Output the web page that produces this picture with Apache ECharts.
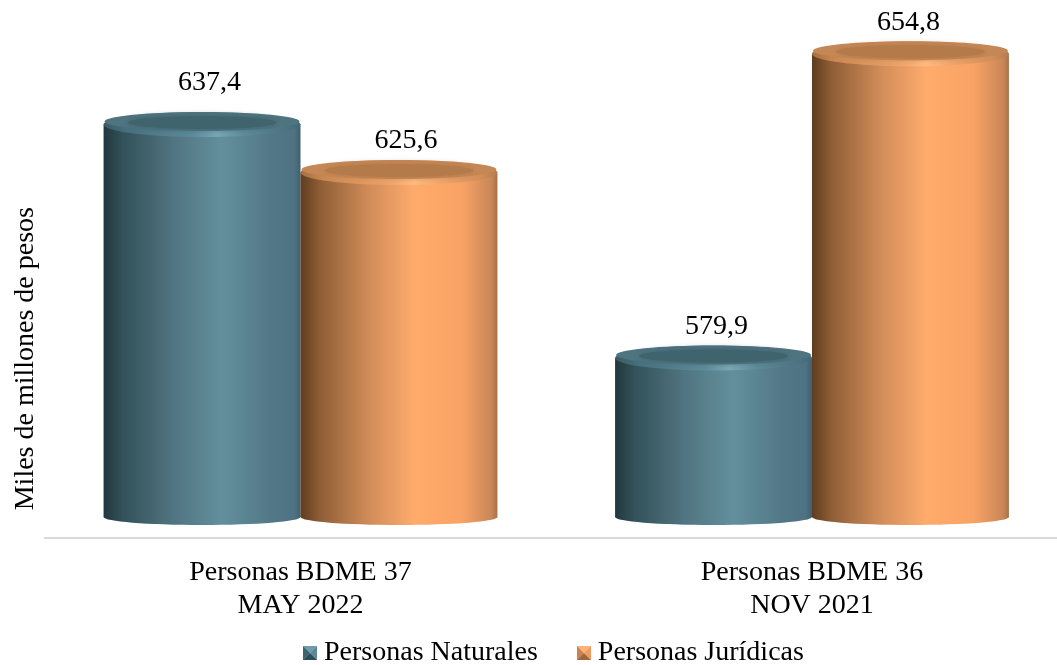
<!DOCTYPE html>
<html>
<head>
<meta charset="utf-8">
<style>
html, body { margin: 0; padding: 0; background: #fff; }
#chart { width: 1057px; height: 665px; }
</style>
<script src="https://cdn.jsdelivr.net/npm/echarts@6/dist/echarts.min.js"></script>
</head>
<body>
<div id="chart"></div>
<script>
var categories = ['Personas BDME 37\nMAY 2022', 'Personas BDME 36\nNOV 2021'];
var seriesNames = ['Personas Naturales', 'Personas Jurídicas'];
var naturales = [637.4, 579.9];
var juridicas = [625.6, 654.8];
var axisMin = 535.6;
var axisMax = 667.6;
// the cylinders stand a little above the axis line
var cylinderBase = 540.8;

var FONT = '"Liberation Serif", "Times New Roman", serif';

// hand placed labels in the original: [dx, lift] by series then category
var labelNudge = [
    [[7.5, 42], [3, 31]],
    [[7, 32], [-2, 31]]
];

var palettes = [
    {
        body: [[0, '#22373d'], [0.1, '#33525a'], [0.35, '#507480'], [0.6, '#638f9d'], [0.85, '#527887'], [0.97, '#4e7283'], [1, '#3f5f6c']],
        rim: [[0, '#3b5a64'], [0.12, '#46707f'], [0.45, '#5c8a99'], [0.58, '#7aa8b6'], [0.72, '#5c8a99'], [0.92, '#4c7483'], [1, '#44697a']],
        top: '#40646e',
        edge: '#4e7480',
        icon: ['#6f9cab', '#2f4d58', '#3d636f', '#5a8796']
    },
    {
        body: [[0, '#5f3d20'], [0.1, '#8f5e36'], [0.35, '#d18d59'], [0.58, '#ffab6c'], [0.82, '#f9a365'], [0.97, '#c98757'], [1, '#a87149']],
        rim: [[0, '#a5703f'], [0.12, '#cb8852'], [0.45, '#eea468'], [0.58, '#ffbb82'], [0.72, '#eea468'], [0.92, '#d18c59'], [1, '#b67c50']],
        top: '#b57a4a',
        edge: '#c58755',
        icon: ['#ffb27a', '#a2663a', '#c9834f', '#f09c60']
    }
];

function hGrad(stops) {
    return new echarts.graphic.LinearGradient(0, 0, 1, 0, stops.map(function (s) {
        return { offset: s[0], color: s[1] };
    }));
}

// legend marker: small square with four bevelled faces
function makeIcon(colors) {
    var c = document.createElement('canvas');
    c.width = 28;
    c.height = 28;
    var ctx = c.getContext('2d');
    var faces = [
        [[0, 0], [28, 0], [14, 14]],
        [[0, 28], [28, 28], [14, 14]],
        [[0, 0], [0, 28], [14, 14]],
        [[28, 0], [28, 28], [14, 14]]
    ];
    faces.forEach(function (f, i) {
        ctx.fillStyle = colors[i];
        ctx.beginPath();
        ctx.moveTo(f[0][0], f[0][1]);
        ctx.lineTo(f[1][0], f[1][1]);
        ctx.lineTo(f[2][0], f[2][1]);
        ctx.closePath();
        ctx.fill();
    });
    return 'image://' + c.toDataURL();
}

function renderCylinder(params, api) {
    var pal = palettes[params.seriesIndex];
    var idx = api.value(0);
    var val = api.value(1);
    var band = api.size([1, 0])[0];
    var w = band * 0.385;
    var center = api.coord([idx, val]);
    var base = api.coord([idx, cylinderBase]);
    var x = params.seriesIndex === 0 ? center[0] - w : center[0];
    var cx = x + w / 2;
    var cy = center[1];
    var body = hGrad(pal.body);
    var nudge = labelNudge[params.seriesIndex][idx];
    return {
        type: 'group',
        children: [
            { type: 'ellipse', shape: { cx: cx, cy: base[1], rx: w / 2, ry: 8 }, style: { fill: body } },
            { type: 'rect', shape: { x: x, y: cy, width: w, height: base[1] - cy }, style: { fill: body } },
            { type: 'ellipse', shape: { cx: cx, cy: cy, rx: w / 2, ry: 12.5 }, style: { fill: hGrad(pal.rim) } },
            { type: 'ellipse', shape: { cx: cx, cy: cy - 3, rx: w / 2 - 1, ry: 9.5 }, style: { fill: pal.edge } },
            { type: 'ellipse', shape: { cx: cx, cy: cy - 2, rx: w / 2 - 24, ry: 6.5 }, style: { fill: pal.top, shadowBlur: 6, shadowColor: pal.top } },
            {
                type: 'text',
                style: {
                    x: cx + nudge[0],
                    y: cy - nudge[1],
                    text: String(val).replace('.', ','),
                    font: '28px ' + FONT,
                    fill: '#000',
                    align: 'center',
                    verticalAlign: 'middle'
                }
            }
        ]
    };
}

function buildSeries(name, values) {
    return {
        name: name,
        type: 'custom',
        renderItem: renderCylinder,
        encode: { x: 0, y: 1 },
        data: values.map(function (v, i) { return [i, v]; })
    };
}

var myChart = echarts.init(document.getElementById('chart'));
myChart.setOption({
    animation: false,
    backgroundColor: '#fff',
    color: ['#4e7283', '#f9a365'],
    grid: { left: 44.75, width: 1023, top: 1.8, height: 536.2, outerBoundsMode: 'none' },
    legend: {
        top: 634,
        left: 298,
        itemWidth: 14,
        itemHeight: 14,
        itemGap: 39,
        itemStyle: { borderWidth: 0 },
        textStyle: { fontFamily: FONT, fontSize: 28, color: '#000', padding: [0, 0, 0, 2] },
        data: [
            { name: seriesNames[0], icon: makeIcon(palettes[0].icon) },
            { name: seriesNames[1], icon: makeIcon(palettes[1].icon) }
        ]
    },
    xAxis: {
        type: 'category',
        data: categories,
        axisTick: { show: false },
        axisLine: { lineStyle: { color: '#d9d9d9', width: 2 } },
        axisLabel: { fontFamily: FONT, fontSize: 28, color: '#000', lineHeight: 33, margin: 18 }
    },
    yAxis: {
        type: 'value',
        min: axisMin,
        max: axisMax,
        axisLabel: { show: false },
        axisLine: { show: false },
        axisTick: { show: false },
        splitLine: { show: false }
    },
    graphic: [{
        type: 'text',
        left: 12,
        top: 207,
        rotation: Math.PI / 2,
        style: { text: 'Miles de millones de pesos', font: '28px ' + FONT, fill: '#000' }
    }],
    series: [buildSeries(seriesNames[0], naturales), buildSeries(seriesNames[1], juridicas)]
});
</script>
</body>
</html>
